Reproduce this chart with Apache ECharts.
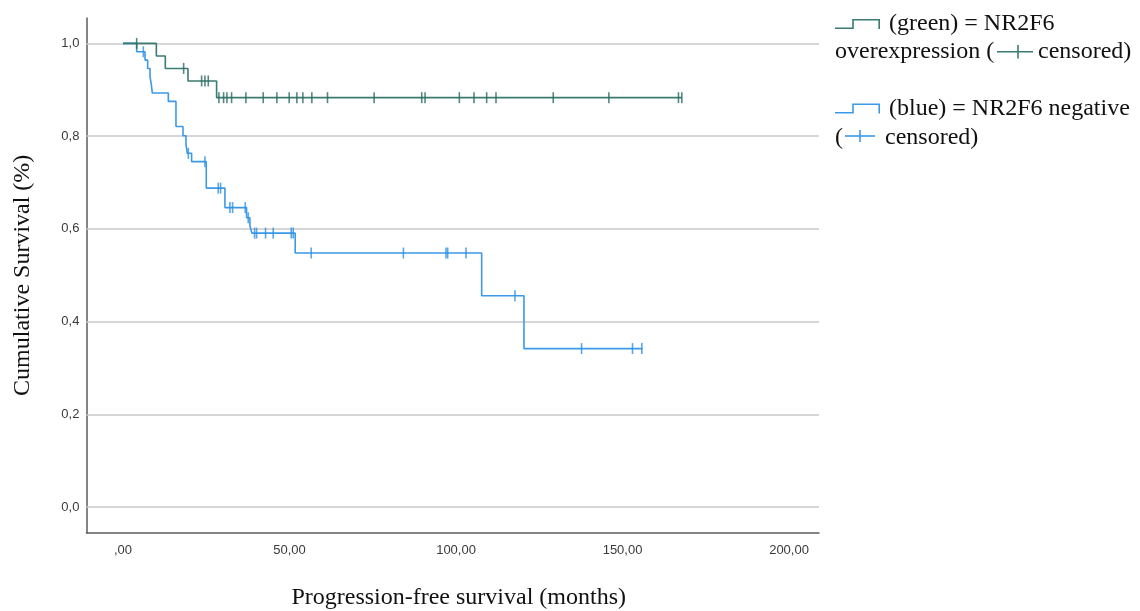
<!DOCTYPE html>
<html>
<head>
<meta charset="utf-8">
<script src="https://cdn.jsdelivr.net/npm/echarts@6/dist/echarts.min.js"></script>
<style>html,body{margin:0;padding:0;background:#fff}#c{width:1140px;height:611px}</style>
</head>
<body>
<div id="c"></div>
<script>
// ---------- data ----------
const SERIES_NAMES = ['(green) = NR2F6', '(blue) = NR2F6 negative'];

const GREEN_EVENT_TIMES = [0, 10.0, 12.7, 19.5, 28.1];
const GREEN_SURVIVAL    = [1.0, 0.973, 0.946, 0.919, 0.883];
const GREEN_LAST_TIME   = 167.8;
const GREEN_CENSORED    = [4.1, 18.2, 23.6, 24.6, 25.6, 28.8, 30.2, 31.2, 32.6, 36.9, 42.1, 46.2,
                           49.9, 52.2, 54.0, 56.7, 61.4, 75.4, 89.7, 90.7, 101.0, 105.4, 109.2,
                           112.0, 129.2, 145.9, 166.8, 167.8];

const BLUE_EVENT_TIMES = [0, 4.1, 6.6, 7.4, 8.1, 8.5, 8.8, 13.6, 15.9, 18.0, 18.9, 19.3, 20.6,
                          25.0, 30.6, 37.1, 38.1, 38.7, 51.7, 107.7, 120.4];
const BLUE_SURVIVAL    = [1.0, 0.982, 0.964, 0.946, 0.929, 0.911, 0.893, 0.875, 0.821, 0.801, 0.782,
                          0.763, 0.745, 0.688, 0.646, 0.624, 0.607, 0.591, 0.548, 0.456, 0.342];
const BLUE_LAST_TIME   = 156.0;
const BLUE_CENSORED    = [6.1, 19.6, 24.6, 28.6, 29.3, 32.1, 32.9, 36.7, 37.6, 39.5, 40.1, 42.8,
                          45.1, 50.5, 51.1, 56.5, 84.2, 97.0, 97.5, 103.0, 117.7, 137.7, 153.0, 155.8];

const X_TICK_VALUES = [0, 50, 100, 150, 200];
const X_TICK_LABELS = [',00', '50,00', '100,00', '150,00', '200,00'];
const Y_TICK_VALUES = [0, 0.2, 0.4, 0.6, 0.8, 1.0];
const Y_TICK_LABELS = ['0,0', '0,2', '0,4', '0,6', '0,8', '1,0'];

const X_TITLE = 'Progression-free survival (months)';
const Y_TITLE = 'Cumulative Survival (%)';
const LEGEND_LINE2_GREEN = ['overexpression (', 'censored)'];
const LEGEND_LINE2_BLUE = ['(', 'censored)'];

// ---------- styles ----------
const GREEN = '#3a7c72', GREEN_MARK = '#2a6a61';
const BLUE = '#3b9ae8', BLUE_MARK = '#2f90e2';
const SERIF = '"Liberation Serif", "Times New Roman", serif';
const SANS = '"Liberation Sans", Arial, sans-serif';

function stepPoints(times, surv, last) {
  const pts = times.map((t, i) => [t, surv[i]]);
  pts.push([last, surv[surv.length - 1]]);
  return pts;
}
function survAt(times, surv, t) {
  let s = surv[0];
  for (let i = 0; i < times.length; i++) if (times[i] <= t) s = surv[i];
  return s;
}
function tickLabel(vals, labels, v) {
  for (let i = 0; i < vals.length; i++) if (Math.abs(vals[i] - v) < 1e-6) return labels[i];
  return '';
}

const STEP_ICON = 'path://M0 8.4 L17.2 8.4 L17.2 0 L45 0 L45 10 L43.4 10 L43.4 1.6 L18.8 1.6 L18.8 10 L0 10 Z';

const legendBase = {
  orient: 'vertical', left: 835, padding: 0, itemWidth: 45, itemHeight: 10,
  icon: STEP_ICON, selectedMode: false, itemStyle: {borderWidth: 0},
  textStyle: {fontFamily: SERIF, fontSize: 24, color: '#111', lineHeight: 28, padding: [0, 0, 0, 4]}
};

const chart = echarts.init(document.getElementById('c'));
chart.setOption({
  animation: false,
  backgroundColor: '#fff',
  grid: {left: 86.4, top: 17.9, width: 732.6, height: 514.8, containLabel: false, outerBoundsMode: 'none'},
  legend: [
    Object.assign({}, legendBase, {data: [SERIES_NAMES[0]], top: 10}),
    Object.assign({}, legendBase, {data: [SERIES_NAMES[1]], top: 94.5})
  ],
  xAxis: {
    type: 'value', min: -11, max: 209, interval: 1,
    axisLine: {show: true, onZero: false, lineStyle: {color: '#5c5c5c', width: 1.5}},
    axisTick: {show: false}, splitLine: {show: false},
    axisLabel: {formatter: v => tickLabel(X_TICK_VALUES, X_TICK_LABELS, v),
                color: '#3a3a3a', fontFamily: SANS, fontSize: 13, margin: 11},
    name: X_TITLE, nameLocation: 'middle', nameGap: 53,
    nameTextStyle: {fontFamily: SERIF, fontSize: 24, color: '#111', padding: [0, 0, 0, 12]}
  },
  yAxis: {
    type: 'value', min: -0.055, max: 1.055, interval: 0.005,
    axisLine: {show: true, onZero: false, lineStyle: {color: '#5c5c5c', width: 1.5}},
    axisTick: {show: false}, splitLine: {show: false},
    axisLabel: {formatter: v => tickLabel(Y_TICK_VALUES, Y_TICK_LABELS, v),
                color: '#3a3a3a', fontFamily: SANS, fontSize: 13, margin: 7},
    name: Y_TITLE, nameLocation: 'middle', nameGap: 52,
    nameTextStyle: {fontFamily: SERIF, fontSize: 24, color: '#111'}
  },
  series: [
    {
      name: SERIES_NAMES[1], type: 'line', step: 'end', showSymbol: false, z: 3,
      data: stepPoints(BLUE_EVENT_TIMES, BLUE_SURVIVAL, BLUE_LAST_TIME),
      lineStyle: {color: BLUE, width: 1.6}, itemStyle: {color: BLUE},
      markLine: {
        silent: true, symbol: 'none', z: 1, label: {show: false},
        lineStyle: {color: '#c9c9c9', width: 1.5, type: 'solid'},
        data: Y_TICK_VALUES.map(v => ({yAxis: v}))
      }
    },
    {
      name: SERIES_NAMES[0], type: 'line', step: 'end', showSymbol: false, z: 4,
      data: stepPoints(GREEN_EVENT_TIMES, GREEN_SURVIVAL, GREEN_LAST_TIME),
      lineStyle: {color: GREEN, width: 1.6}, itemStyle: {color: GREEN}
    },
    {
      name: 'blue censored', type: 'scatter', symbol: 'rect', symbolSize: [1.6, 11], z: 5,
      itemStyle: {color: BLUE_MARK},
      data: BLUE_CENSORED.map(t => [t, survAt(BLUE_EVENT_TIMES, BLUE_SURVIVAL, t)])
    },
    {
      name: 'green censored', type: 'scatter', symbol: 'rect', symbolSize: [1.6, 11], z: 6,
      itemStyle: {color: GREEN_MARK},
      data: GREEN_CENSORED.map(t => [t, survAt(GREEN_EVENT_TIMES, GREEN_SURVIVAL, t)])
    }
  ],
  graphic: [
    {type: 'text', x: 835, y: 52, style: {text: LEGEND_LINE2_GREEN[0], font: '24px ' + SERIF, fill: '#111', verticalAlign: 'middle'}},
    {type: 'line', shape: {x1: 997, y1: 51.7, x2: 1033, y2: 51.7}, style: {stroke: GREEN, lineWidth: 1.6}},
    {type: 'line', shape: {x1: 1018, y1: 45, x2: 1018, y2: 58.5}, style: {stroke: GREEN, lineWidth: 1.6}},
    {type: 'text', x: 1038, y: 52, style: {text: LEGEND_LINE2_GREEN[1], font: '24px ' + SERIF, fill: '#111', verticalAlign: 'middle'}},
    {type: 'text', x: 835, y: 138, style: {text: LEGEND_LINE2_BLUE[0], font: '24px ' + SERIF, fill: '#111', verticalAlign: 'middle'}},
    {type: 'line', shape: {x1: 845, y1: 136, x2: 875, y2: 136}, style: {stroke: BLUE, lineWidth: 1.6}},
    {type: 'line', shape: {x1: 860, y1: 130, x2: 860, y2: 142}, style: {stroke: BLUE, lineWidth: 1.6}},
    {type: 'text', x: 885, y: 138, style: {text: LEGEND_LINE2_BLUE[1], font: '24px ' + SERIF, fill: '#111', verticalAlign: 'middle'}}
  ]
});
</script>
</body>
</html>
